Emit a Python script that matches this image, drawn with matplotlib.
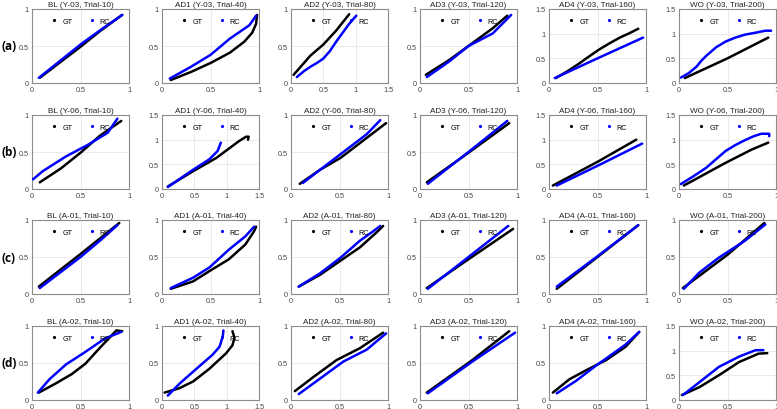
import matplotlib
matplotlib.use("Agg")
import matplotlib.pyplot as plt
from matplotlib.lines import Line2D
from matplotlib.ticker import FuncFormatter

# ---------------- data ----------------
conditions = ["BL", "AD1", "AD2", "AD3", "AD4", "WO"]
trials = [10, 40, 80, 120, 160, 200]
subjects = ["Y-03", "Y-06", "A-01", "A-02"]
row_labels = ["(a)", "(b)", "(c)", "(d)"]

# axis upper limits per panel (rows a-d, columns BL..WO)
xmax = [[1, 1, 1.5, 1, 1, 1],
        [1, 1.5, 1, 1, 1, 1],
        [1, 1, 1, 1, 1, 1],
        [1, 1.5, 1, 1, 1, 1]]
ymax = [[1, 1, 1, 1, 1.5, 1.5],
        [1, 1.5, 1, 1, 1.5, 1.5],
        [1, 1, 1, 1, 1, 1],
        [1, 1, 1, 1, 1, 1.5]]

# Row (a) Y-03
a_gt_x = [[0.08, 0.3, 0.5, 0.7, 0.93],
          [0.09, 0.3, 0.5, 0.7, 0.85, 0.93, 0.97, 0.98],
          [0.04, 0.3, 0.5, 0.7, 0.9],
          [0.06, 0.3, 0.5, 0.75, 0.9],
          [0.07, 0.2, 0.3, 0.4, 0.51, 0.62, 0.73, 0.83, 0.92],
          [0.06, 0.5, 0.92]]
a_gt_y = [[0.07, 0.29, 0.49, 0.7, 0.92],
          [0.04, 0.15, 0.27, 0.41, 0.56, 0.68, 0.8, 0.92],
          [0.11, 0.37, 0.52, 0.71, 0.93],
          [0.11, 0.31, 0.5, 0.74, 0.91],
          [0.1, 0.25, 0.38, 0.52, 0.67, 0.8, 0.92, 1.01, 1.1],
          [0.1, 0.5, 0.92]]
a_rc_x = [[0.07, 0.3, 0.5, 0.7, 0.93],
          [0.08, 0.3, 0.5, 0.7, 0.9, 0.97],
          [0.09, 0.2, 0.3, 0.4, 0.5, 0.6, 0.7, 0.8, 0.9, 1.01],
          [0.07, 0.3, 0.5, 0.75, 0.94],
          [0.06, 0.5, 0.97],
          [0.02, 0.1, 0.18, 0.23, 0.28, 0.38, 0.48, 0.58, 0.68, 0.79, 0.89, 0.95]]
a_rc_y = [[0.07, 0.31, 0.52, 0.71, 0.92],
          [0.06, 0.22, 0.38, 0.6, 0.78, 0.91],
          [0.08, 0.16, 0.22, 0.27, 0.33, 0.43, 0.56, 0.68, 0.8, 0.91],
          [0.08, 0.29, 0.5, 0.67, 0.92],
          [0.1, 0.5, 0.92],
          [0.11, 0.2, 0.33, 0.45, 0.55, 0.72, 0.84, 0.92, 0.98, 1.02, 1.06, 1.06]]

# Row (b) Y-06
b_gt_x = [[0.08, 0.3, 0.5, 0.7, 0.92],
          [0.09, 0.48, 0.84, 1.19, 1.3, 1.34, 1.33],
          [0.09, 0.3, 0.51, 0.71, 0.98],
          [0.07, 0.5, 0.92],
          [0.04, 0.5, 0.9],
          [0.05, 0.48, 0.75, 0.92]]
b_gt_y = [[0.09, 0.28, 0.49, 0.72, 0.92],
          [0.05, 0.36, 0.63, 0.97, 1.06, 1.06, 1.0],
          [0.07, 0.26, 0.42, 0.62, 0.89],
          [0.09, 0.49, 0.89],
          [0.07, 0.55, 1.0],
          [0.07, 0.53, 0.8, 0.94]]
b_rc_x = [[0.01, 0.11, 0.35, 0.58, 0.78, 0.88],
          [0.09, 0.48, 0.73, 0.86, 0.91],
          [0.12, 0.37, 0.57, 0.78, 0.92],
          [0.08, 0.5, 0.9],
          [0.08, 0.5, 0.96],
          [0.02, 0.15, 0.28, 0.38, 0.48, 0.58, 0.68, 0.77, 0.85, 0.93, 0.93]]
b_rc_y = [[0.13, 0.24, 0.44, 0.6, 0.76, 0.95],
          [0.04, 0.39, 0.6, 0.77, 0.94],
          [0.08, 0.33, 0.53, 0.74, 0.93],
          [0.07, 0.5, 0.92],
          [0.07, 0.47, 0.92],
          [0.1, 0.26, 0.43, 0.6, 0.77, 0.89, 0.99, 1.07, 1.12, 1.12, 1.07]]

# Row (c) A-01
c_gt_x = [[0.07, 0.5, 0.9],
          [0.09, 0.32, 0.49, 0.69, 0.86, 0.95, 0.97],
          [0.08, 0.3, 0.51, 0.71, 0.88, 0.95],
          [0.07, 0.5, 0.96],
          [0.08, 0.5, 0.92],
          [0.04, 0.5, 0.88]]
c_gt_y = [[0.1, 0.54, 0.96],
          [0.07, 0.17, 0.31, 0.47, 0.67, 0.85, 0.91],
          [0.1, 0.26, 0.45, 0.63, 0.83, 0.92],
          [0.08, 0.47, 0.88],
          [0.07, 0.5, 0.93],
          [0.08, 0.53, 0.96]]
c_rc_x = [[0.08, 0.3, 0.5, 0.7, 0.88],
          [0.09, 0.32, 0.49, 0.69, 0.86, 0.95],
          [0.08, 0.3, 0.51, 0.71, 0.85, 0.92],
          [0.08, 0.5, 0.91],
          [0.08, 0.5, 0.92],
          [0.05, 0.21, 0.41, 0.68, 0.89]]
c_rc_y = [[0.08, 0.3, 0.5, 0.72, 0.93],
          [0.08, 0.22, 0.36, 0.6, 0.78, 0.91],
          [0.1, 0.28, 0.49, 0.72, 0.85, 0.92],
          [0.07, 0.5, 0.92],
          [0.1, 0.51, 0.93],
          [0.07, 0.29, 0.49, 0.72, 0.94]]

# Row (d) A-02
d_gt_x = [[0.07, 0.24, 0.41, 0.55, 0.71, 0.87, 0.93],
          [0.04, 0.27, 0.48, 0.73, 0.99, 1.09, 1.12, 1.09],
          [0.04, 0.23, 0.47, 0.71, 0.95],
          [0.07, 0.54, 0.92],
          [0.04, 0.21, 0.38, 0.59, 0.79, 0.93],
          [0.03, 0.21, 0.41, 0.62, 0.82, 0.91]]
d_gt_y = [[0.1, 0.22, 0.35, 0.49, 0.72, 0.94, 0.93],
          [0.1, 0.16, 0.25, 0.42, 0.63, 0.74, 0.84, 0.93],
          [0.12, 0.31, 0.54, 0.7, 0.91],
          [0.1, 0.54, 0.93],
          [0.1, 0.28, 0.4, 0.54, 0.72, 0.92],
          [0.1, 0.26, 0.5, 0.77, 0.94, 0.95]]
d_rc_x = [[0.06, 0.18, 0.35, 0.55, 0.75, 0.92],
          [0.09, 0.27, 0.53, 0.78, 0.89, 0.94, 0.95],
          [0.08, 0.3, 0.54, 0.78, 0.98],
          [0.08, 0.54, 0.98],
          [0.08, 0.28, 0.49, 0.62, 0.79, 0.93],
          [0.04, 0.21, 0.41, 0.62, 0.79, 0.87]]
d_rc_y = [[0.1, 0.28, 0.48, 0.65, 0.83, 0.92],
          [0.06, 0.22, 0.42, 0.61, 0.72, 0.86, 0.94],
          [0.08, 0.29, 0.52, 0.68, 0.9],
          [0.09, 0.52, 0.91],
          [0.09, 0.26, 0.47, 0.59, 0.75, 0.92],
          [0.1, 0.36, 0.67, 0.88, 1.01, 1.01]]

gt_x = [a_gt_x, b_gt_x, c_gt_x, d_gt_x]
gt_y = [a_gt_y, b_gt_y, c_gt_y, d_gt_y]
rc_x = [a_rc_x, b_rc_x, c_rc_x, d_rc_x]
rc_y = [a_rc_y, b_rc_y, c_rc_y, d_rc_y]

# ---------------- layout ----------------
W, H = 777, 410
fig = plt.figure(figsize=(W / 100, H / 100), dpi=100)
plt.rcParams['font.family'] = ['Liberation Sans', 'DejaVu Sans']

col_left = [32, 162, 291, 420, 549, 679]
row_top = [10, 116, 221, 327]
ax_w, ax_h = 97, 74

fmt = FuncFormatter(lambda v, p: ('%g' % v))
GT_COLOR = 'black'
RC_COLOR = '#0000ff'

for r in range(4):
    for c in range(6):
        l = col_left[c] / W
        b = 1 - (row_top[r] + ax_h) / H
        ax = fig.add_axes([l, b, ax_w / W, ax_h / H])
        ax.plot(gt_x[r][c], gt_y[r][c], color=GT_COLOR, lw=1.8,
                solid_capstyle='round', solid_joinstyle='round', zorder=3)
        ax.plot(rc_x[r][c], rc_y[r][c], color=RC_COLOR, lw=1.8,
                solid_capstyle='round', solid_joinstyle='round', zorder=3)
        ax.set_xlim(0, xmax[r][c])
        ax.set_ylim(0, ymax[r][c])
        ax.set_xticks([0, 0.5, 1, 1.5][:int(xmax[r][c] / 0.5) + 1])
        ax.set_yticks([0, 0.5, 1, 1.5][:int(ymax[r][c] / 0.5) + 1])
        ax.xaxis.set_major_formatter(fmt)
        ax.yaxis.set_major_formatter(fmt)
        ax.grid(True, color='#e6e6e6', lw=0.6, zorder=0)
        ax.set_axisbelow(True)
        for s in ax.spines.values():
            s.set_color('#8c8c8c')
            s.set_linewidth(0.8)
        ax.tick_params(axis='both', labelsize=5.2, colors='#8c8c8c',
                       labelcolor='#444444', length=0, pad=2.5)
        ax.set_title(f"{conditions[c]} ({subjects[r]}, Trial-{trials[c]})",
                     fontsize=5.9, pad=2.5, color='#222222')
        handles = [Line2D([], [], ls='none', marker='.', ms=2.5, color=GT_COLOR),
                   Line2D([], [], ls='none', marker='.', ms=2.5, color=RC_COLOR)]
        ax.legend(handles, ['GT', 'RC'], loc='upper center',
                  bbox_to_anchor=(0.5, 0.94), ncol=2, frameon=False,
                  fontsize=5.2, handlelength=1.0, handletextpad=0.6,
                  columnspacing=2.2, borderaxespad=0.2)
    yc = 1 - (row_top[r] + ax_h / 2) / H
    fig.text(2 / W, yc, row_labels[r], fontsize=8.5, fontweight='bold',
             family=['Open Sans', 'DejaVu Sans'], ha='left', va='center')

fig.savefig("out.png", dpi=100)
